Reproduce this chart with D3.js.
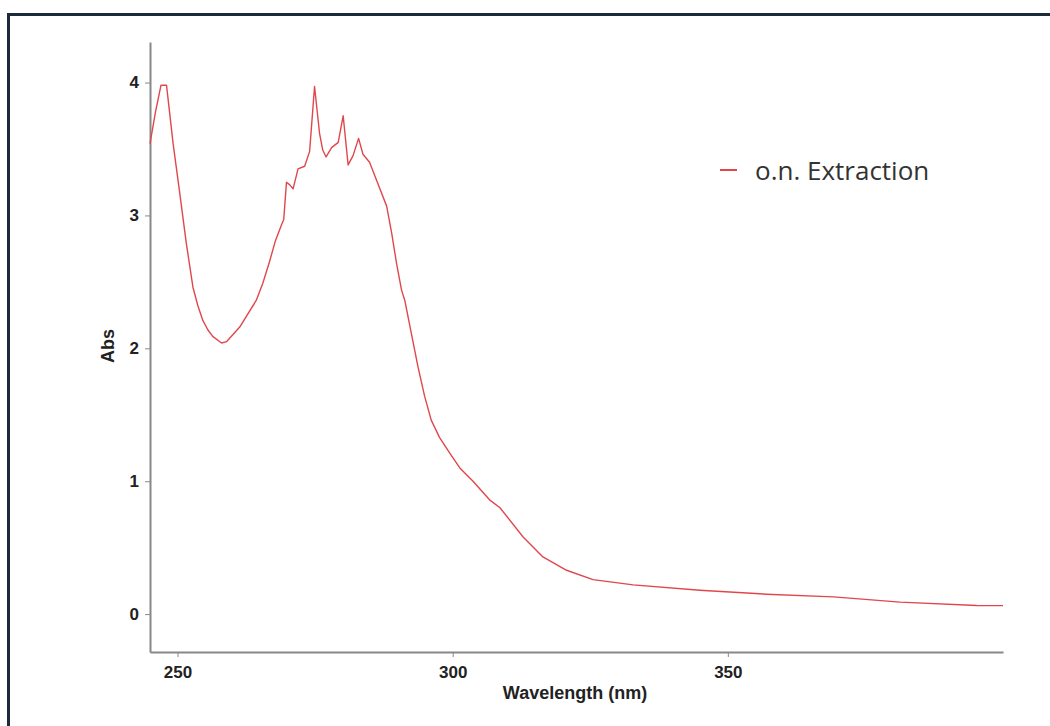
<!DOCTYPE html>
<meta charset="utf-8">
<script src="https://d3js.org/d3.v7.min.js"></script>
<style type="text/css">
body { margin: 0; background: #fff; }
svg { display: block; }
.axis path, .axis line { stroke: #888; }
.axis path { stroke-width: 2px; }
.axis line { stroke-width: 1px; }
.axis text { font-family: "Liberation Sans", Arial, sans-serif; font-weight: bold; font-size: 17px; fill: #222; }
.axisTitle { font-family: "Liberation Sans", Arial, sans-serif; font-weight: bold; font-size: 18px; fill: #222; }
.legendText { font-family: "Open Sans", sans-serif; font-size: 26px; fill: #333; }
</style>
<body></body>
<script>

// spectrum
var wavelength = [245.0, 246.0, 247.0, 248.0, 249.2, 250.4, 251.6, 252.8, 253.7, 254.6, 255.5, 256.4, 258.0, 258.9,
  261.3, 264.3, 265.5, 266.7, 267.8, 268.9, 269.3, 269.8, 270.4, 271.0, 271.9, 273.1, 274.0, 274.9,
  275.8, 276.4, 277.0, 278.0, 279.2, 280.1, 281.0, 281.9, 282.9, 283.7, 284.9, 286.4, 288.0, 288.9,
  289.8, 290.7, 291.3, 292.5, 293.7, 294.9, 296.1, 297.6, 299.5, 301.3, 303.7, 306.7, 308.6, 312.8,
  316.4, 320.7, 325.5, 332.8, 344.9, 357.0, 369.2, 381.3, 395.2, 400.0];
var absorbance = [3.54, 3.78, 3.98, 3.98, 3.54, 3.17, 2.79, 2.46, 2.32, 2.21, 2.14, 2.09, 2.04, 2.05,
  2.16, 2.36, 2.49, 2.65, 2.81, 2.93, 2.97, 3.25, 3.23, 3.20, 3.35, 3.37, 3.48, 3.97,
  3.62, 3.49, 3.44, 3.51, 3.55, 3.75, 3.38, 3.45, 3.58, 3.46, 3.40, 3.24, 3.07, 2.87,
  2.64, 2.44, 2.36, 2.11, 1.86, 1.64, 1.46, 1.33, 1.21, 1.10, 1.00, 0.86, 0.80, 0.58,
  0.43, 0.33, 0.26, 0.22, 0.18, 0.15, 0.13, 0.09, 0.065, 0.064];
var xTicks = [250, 300, 350];
var yTicks = [0, 1, 2, 3, 4];
var seriesName = 'o.n. Extraction';

var data = wavelength.map(function(w, i) { return {x: w, y: absorbance[i]}; });

var svg = d3.select('body').append('svg')
  .attr('width', 1050)
  .attr('height', 726);

// frame (only top/left edges visible in the shot)
svg.append('rect')
  .attr('x', 8.5).attr('y', 14.5)
  .attr('width', 1200).attr('height', 1000)
  .attr('fill', 'none')
  .attr('stroke', '#1b2a3d')
  .attr('stroke-width', 3);

var margin = {top: 42, left: 150};
var width = 853, height = 610;

var g = svg.append('g')
  .attr('transform', 'translate(' + margin.left + ',' + margin.top + ')');

var xScale = d3.scaleLinear().domain([245, 400]).range([0, width]);
var yScale = d3.scaleLinear().domain([-0.285, 4.305]).range([height, 0]);

var xAxis = d3.axisBottom(xScale).tickValues(xTicks).tickFormat(d3.format('d'))
  .tickSizeInner(5).tickSizeOuter(0).tickPadding(9);
var yAxis = d3.axisLeft(yScale).tickValues(yTicks).tickFormat(d3.format('d'))
  .tickSizeInner(5).tickSizeOuter(0).tickPadding(6);

g.append('g')
  .attr('class', 'x axis')
  .attr('transform', 'translate(0,' + height + ')')
  .call(xAxis);

g.append('g')
  .attr('class', 'y axis')
  .call(yAxis);

// line
var line = d3.line()
  .x(function(d) { return xScale(d.x); })
  .y(function(d) { return yScale(d.y); });

g.append('path')
  .datum(data)
  .attr('fill', 'none')
  .attr('stroke', '#e0474c')
  .attr('stroke-width', 1.4)
  .attr('stroke-linejoin', 'round')
  .attr('d', line);

// axis titles
svg.append('text')
  .attr('class', 'axisTitle')
  .attr('x', 575).attr('y', 699)
  .attr('text-anchor', 'middle')
  .text('Wavelength (nm)');

svg.append('text')
  .attr('class', 'axisTitle')
  .attr('transform', 'translate(114,346) rotate(-90)')
  .attr('text-anchor', 'middle')
  .text('Abs');

// legend
svg.append('line')
  .attr('x1', 720).attr('x2', 737)
  .attr('y1', 170).attr('y2', 170)
  .attr('stroke', '#e0474c')
  .attr('stroke-width', 2);

svg.append('text')
  .attr('class', 'legendText')
  .attr('x', 755).attr('y', 180)
  .text(seriesName);

</script>
